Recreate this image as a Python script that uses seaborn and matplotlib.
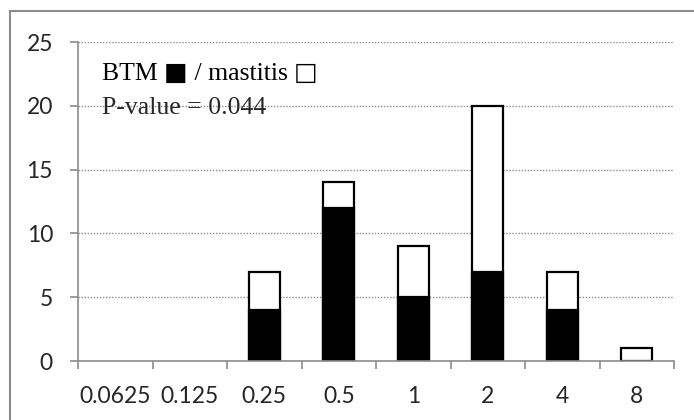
import pandas as pd
import seaborn as sns
import matplotlib
matplotlib.use("Agg")
import matplotlib.pyplot as plt
from matplotlib.patches import Rectangle

categories = ["0.0625", "0.125", "0.25", "0.5", "1", "2", "4", "8"]
btm = [0, 0, 4, 12, 5, 7, 4, 0]
mastitis = [0, 0, 3, 2, 4, 13, 3, 1]
y_ticks = [0, 5, 10, 15, 20, 25]

df = pd.DataFrame({"mic": categories, "btm": btm, "mastitis": mastitis})
df["total"] = df["btm"] + df["mastitis"]

sns.set_style("white")
plt.rcParams["font.family"] = ["Lato", "DejaVu Sans"]

fig = plt.figure(figsize=(6.94, 4.2), dpi=100, facecolor="white")
ax = fig.add_axes([78 / 694, 1 - 361 / 420, 596 / 694, 319 / 420])

# white (mastitis) part drawn as full stack, black (BTM) on top of it
sns.barplot(data=df, x="mic", y="total", order=categories, color="white",
            saturation=1, edgecolor="black", linewidth=1.6, width=0.41, ax=ax, zorder=3)
sns.barplot(data=df, x="mic", y="btm", order=categories, color="black",
            saturation=1, edgecolor="black", linewidth=1.6, width=0.41, ax=ax, zorder=4)
for p in ax.patches:
    if p.get_height() == 0:
        p.set_linewidth(0)

ax.set_xlim(-0.5, len(categories) - 0.5)
ax.set_ylim(0, 25)
ax.set_yticks(y_ticks)
ax.yaxis.grid(True, linestyle=(0, (1, 1.2)), color="#8c8c8c", linewidth=1)
ax.set_axisbelow(True)
ax.set_xlabel("")
ax.set_ylabel("")

for s in ["top", "right"]:
    ax.spines[s].set_visible(False)
for s in ["left", "bottom"]:
    ax.spines[s].set_color("#8c8c8c")
    ax.spines[s].set_linewidth(1.2)
    ax.spines[s].set_zorder(5)

ax.tick_params(axis="y", which="major", left=True, length=6, width=1.2, color="#8c8c8c",
               labelsize=16.5, pad=12)
ax.tick_params(axis="x", which="major", length=0, labelsize=16.5, pad=18)
ax.set_xticks([i - 0.5 for i in range(len(categories) + 1)], minor=True)
ax.tick_params(axis="x", which="minor", bottom=True, length=6, width=1.2, color="#8c8c8c")

# legend line built piece by piece so the squares can be drawn bigger
serif = ["Liberation Serif", "DejaVu Serif"]
pieces = [("BTM ", serif, 18.5), ("\u25a0", ["DejaVu Sans"], 18),
          (" / mastitis ", serif, 18.5), ("\u25a1", ["DejaVu Sans"], 18)]
x = 0.04
renderer = fig.canvas.get_renderer()
for txt, fam, size in pieces:
    t = ax.text(x, 0.881, txt, transform=ax.transAxes, fontsize=size,
                family=fam, va="baseline", color="black")
    bb = t.get_window_extent(renderer).transformed(ax.transAxes.inverted())
    x = bb.x1
ax.text(0.04, 0.774, "P-value = 0.044", transform=ax.transAxes,
        fontsize=18.5, family=serif, va="baseline")

fig.patches.append(Rectangle((10 / 694, -0.1), 1.0, 1 - 11 / 420 + 0.1,
                             transform=fig.transFigure, fill=False,
                             edgecolor="#8c8c8c", linewidth=1.5))

fig.savefig("out.png", dpi=100, facecolor="white")
